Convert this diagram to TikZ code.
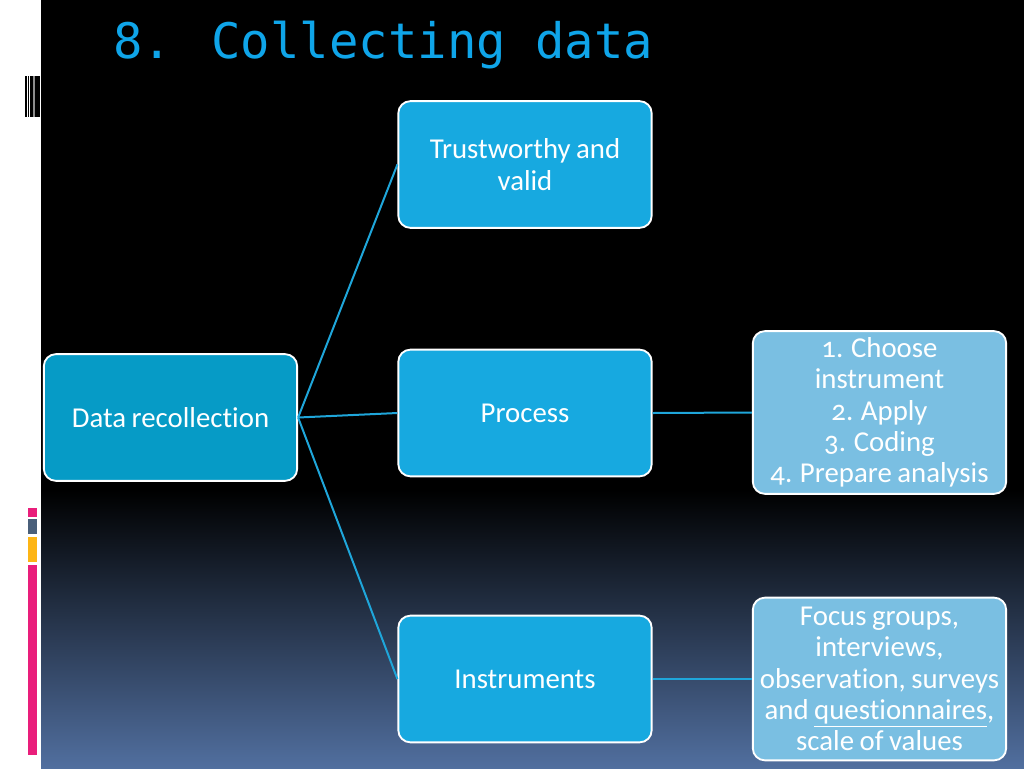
\documentclass[tikz,border=0pt]{standalone}
\usepackage{fontspec}
\setmainfont[Numbers=OldStyle,Ligatures=NoCommon,WordSpace=0.85]{Carlito}
\newfontfamily\titlefont{DejaVu Sans Mono}
\usepackage{tikz}
\usetikzlibrary{positioning}
\definecolor{titleblue}{HTML}{0FA5E9}
\definecolor{boxblue}{HTML}{17A9E0}
\definecolor{rootblue}{HTML}{069BC6}
\definecolor{leafblue}{HTML}{7ABFE2}
\definecolor{linkblue}{HTML}{1FA6DA}
\definecolor{slidefoot}{HTML}{516F9F}
\definecolor{barpink}{HTML}{E91E7B}
\definecolor{barslate}{HTML}{4A5F7A}
\definecolor{baramber}{HTML}{FDB515}
\tikzset{
  basebox/.style={draw=white,rounded corners=9pt,line width=1.4pt,text=white,align=center,
    minimum width=190pt,font=\fontsize{21.6}{23.5}\selectfont,inner sep=0pt},
  rootbox/.style={basebox,fill=rootblue,minimum height=95pt},
  midbox/.style={basebox,fill=boxblue,minimum height=95pt},
  leafbox/.style={basebox,fill=leafblue,minimum height=122pt},
  link/.style={draw=linkblue,line width=1.5pt}
}
\begin{document}
\begin{tikzpicture}[x=0.75pt,y=-0.75pt]
\useasboundingbox (0,0) rectangle (1024,768);
% slide background
\fill[white] (0,0) rectangle (41,768);
\fill[black] (41,0) rectangle (1024,490);
\shade[top color=black,bottom color=slidefoot] (41,490) rectangle (1024,768);
% bars on the left edge
\fill[black] (25,76) rectangle (26.5,117);
\fill[black] (28,76) rectangle (29,117);
\fill[black] (30,76) rectangle (33,117);
\fill[black!45] (33,76) rectangle (35,117);
\fill[black] (35,76) rectangle (40,117);
\fill[barpink] (28,508) rectangle (37,517);
\fill[barslate] (28,519) rectangle (37,534);
\fill[baramber] (28,537) rectangle (37,562);
\fill[barpink] (28,565) rectangle (37,755);
% title
\node[anchor=base west,inner sep=0pt,text=titleblue,font=\titlefont\fontsize{36.7}{40}\selectfont] (title) at (113,58) {8. Collecting data};
% boxes
\node[rootbox] (root) at (170.5,417.5) {Data recollection};
\node[midbox] (trust) at (525,164.5) {Trustworthy and\\valid};
\node[midbox] (process) at (525,413) {Process};
\node[midbox] (instr) at (525,679) {Instruments};
\node[leafbox] (steps) at (879.5,412.5) {1. Choose\\instrument\\2. Apply\\3. Coding\\4. Prepare analysis};
\node[leafbox] (kinds) at (879.5,679) {Focus groups,\\interviews,\\observation, surveys\\and \underline{questionnaires},\\scale of values};
% links
\draw[link] (root.east) -- (trust.west);
\draw[link] (root.east) -- (process.west);
\draw[link] (root.east) -- (instr.west);
\draw[link] (process.east) -- (steps.west);
\draw[link] (instr.east) -- (kinds.west);
\end{tikzpicture}
\end{document}
